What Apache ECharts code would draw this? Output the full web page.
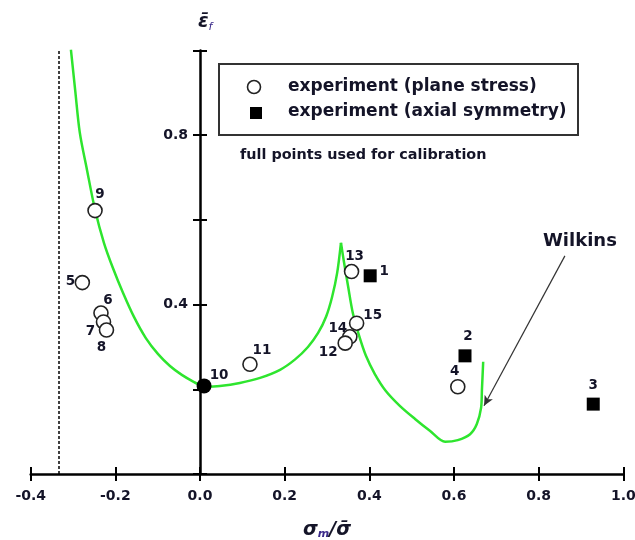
<!DOCTYPE html>
<html><head><meta charset="utf-8">
<script src="https://cdn.jsdelivr.net/npm/echarts@6/dist/echarts.min.js"></script>
<style>html,body{margin:0;padding:0;background:#fff}#c{width:635px;height:540px}</style>
</head><body><div id="c"></div>
<script>
// ---- data ----
// experiment (plane stress), open circles
const planeIds = ['9','5','6','7','8','11','13','15','14','12','4'];
const planeX = [-0.248,-0.278,-0.234,-0.228,-0.221,0.118,0.358,0.370,0.354,0.343,0.609];
const planeY = [0.622,0.452,0.380,0.359,0.340,0.259,0.478,0.356,0.324,0.309,0.206];
// plane stress point used for calibration (filled)
const calibIds = ['10'];
const calibX = [0.0095];
const calibY = [0.208];
// experiment (axial symmetry), filled squares
const axialIds = ['1','2','3'];
const axialX = [0.402,0.626,0.929];
const axialY = [0.468,0.279,0.165];
// Wilkins fracture locus: three smooth pieces (kink at point 10, cusp near 1/3)
const curveAX = [-0.305,-0.295,-0.284,-0.267,-0.248,-0.227,-0.206,-0.182,-0.156,-0.128,-0.099,-0.071,-0.043,-0.014,0.009];
const curveAY = [1.002,0.907,0.806,0.718,0.624,0.546,0.487,0.428,0.371,0.321,0.283,0.255,0.234,0.217,0.206];
const curveBX = [0.009,0.047,0.094,0.142,0.189,0.224,0.255,0.279,0.298,0.312,0.324,0.333];
const curveBY = [0.206,0.208,0.215,0.227,0.246,0.270,0.300,0.333,0.372,0.418,0.475,0.546];
const curveCX = [0.333,0.340,0.350,0.361,0.376,0.392,0.413,0.439,0.472,0.508,0.543,0.579,0.609,0.638,0.654,0.664,0.666,0.669];
const curveCY = [0.546,0.501,0.442,0.380,0.326,0.279,0.236,0.196,0.161,0.130,0.102,0.076,0.080,0.094,0.118,0.156,0.198,0.265];
const cutoffX = -1/3;
const yTickLabels = ['0.4','0.8'];
const arrowFrom = [0.862,0.515];
const arrowTo = [0.671,0.161];
const legendNames = ['experiment (plane stress)','experiment (axial symmetry)'];
const noteText = 'full points used for calibration';
const curveName = 'Wilkins';

// ---- styles ----
const labelOffset = {
  '9':[5,-16],'5':[-12,-1],'6':[7,-13],'7':[-13,10],'8':[-5,17],'11':[12,-14],
  '10':[15,-10],'13':[3,-15],'1':[14,-4],'15':[16,-8],'14':[-12,-8],'12':[-17,9],
  '4':[-3,-15],'2':[3,-19],'3':[0,-19]
};
const TXT = '#141428';
const FONT = '"DejaVu Sans", Verdana, sans-serif';
function pts(xs, ys, ids){
  return xs.map((x,i)=>({value:[x,ys[i]], label:{show:true, formatter:ids[i], position:'inside', offset:labelOffset[ids[i]]||[0,0]}}));
}
function pairs(xs, ys){ return xs.map((x,i)=>[x,ys[i]]); }
const lbl = {color:TXT, fontSize:13.5, fontWeight:'bold', fontFamily:FONT};
const GL = 30.7, GR = 11.7;
const zeroOffset = -(635 - GL - GR) * (0 - (-0.4)) / (1.0 - (-0.4));
const green = {color:'#2ee52e', width:2.5};
const curveSeries = (name, xs, ys) => ({type:'line', name, data:pairs(xs,ys), showSymbol:false, symbol:'none',
  smooth:0.3, lineStyle:green, z:2, silent:true});

const chart = echarts.init(document.getElementById('c'));
const axisCommon = {type:'value', splitLine:{show:false}};
const s1 = curveSeries(curveName, curveAX, curveAY);
s1.markLine = {silent:true, symbol:['none','none'], label:{show:false},
  lineStyle:{color:'#000', type:[3,2], width:1.5},
  data:[[{coord:[cutoffX,0]},{coord:[cutoffX,1.0]}]]};
chart.setOption({
  animation:false,
  backgroundColor:'#fff',
  grid:{left:GL, right:GR, top:50.5, bottom:66, outerBoundsMode:'none', containLabel:false},
  xAxis:[
    Object.assign({}, axisCommon, {min:-0.4, max:1.0, interval:0.2,
      axisLine:{onZero:false, lineStyle:{color:'#000', width:2.5}},
      axisTick:{inside:false, length:7, lineStyle:{color:'#000', width:2}},
      axisLabel:{margin:15, color:TXT, fontSize:14, fontWeight:'bold', fontFamily:FONT, formatter:v=>v.toFixed(1)},
      name:'{a|σ}{b|m}{c|/σ\u0304}', nameLocation:'middle', nameGap:47,
      nameTextStyle:{rich:{
        a:{fontSize:19, fontWeight:'bold', fontStyle:'italic', color:TXT, fontFamily:FONT},
        b:{fontSize:11, fontWeight:'bold', fontStyle:'italic', color:'#3b2a8a', fontFamily:FONT, padding:[8,0,0,0]},
        c:{fontSize:19, fontWeight:'bold', fontStyle:'italic', color:TXT, fontFamily:FONT}
      }}}),
    Object.assign({}, axisCommon, {min:-0.4, max:1.0, interval:0.2, position:'bottom',
      axisLine:{show:false, onZero:false}, axisLabel:{show:false},
      axisTick:{inside:true, length:7, lineStyle:{color:'#000', width:2}}})
  ],
  yAxis:[
    Object.assign({}, axisCommon, {min:0, max:1.0, interval:0.2, position:'left', offset:zeroOffset,
      axisLine:{onZero:false, lineStyle:{color:'#000', width:2.5}},
      axisTick:{inside:false, length:7, lineStyle:{color:'#000', width:2}},
      axisLabel:{margin:12, color:TXT, fontSize:14, fontWeight:'bold', fontFamily:FONT,
        formatter:v=>{const s=v.toFixed(1); return yTickLabels.indexOf(s)>=0?s:'';}},
      name:'{a|ε\u0304}{b|f}', nameLocation:'end', nameGap:18,
      nameTextStyle:{align:'left', padding:[0,0,0,-2], rich:{
        a:{fontSize:19, fontWeight:'bold', fontStyle:'italic', color:TXT, fontFamily:FONT},
        b:{fontSize:11, fontStyle:'italic', color:'#3b2a8a', fontFamily:FONT, padding:[10,0,0,0]}
      }}}),
    Object.assign({}, axisCommon, {min:0, max:1.0, interval:0.2, position:'left', offset:zeroOffset,
      axisLine:{show:false, onZero:false},
      axisLabel:{show:false},
      axisTick:{inside:true, length:7, lineStyle:{color:'#000', width:2}}})
  ],
  series:[
    s1,
    curveSeries(curveName+' (2)', curveBX, curveBY),
    curveSeries(curveName+' (3)', curveCX, curveCY),
    {type:'line', name:'arrow', data:[], markLine:{silent:true, symbol:['none','arrow'], symbolSize:[7,10],
       label:{show:false}, lineStyle:{color:'#333', type:'solid', width:1.2},
       data:[[{coord:arrowFrom},{coord:arrowTo}]]}},
    {type:'scatter', name:legendNames[0], data:pts(planeX,planeY,planeIds), symbol:'circle', symbolSize:14,
     itemStyle:{color:'#fff', borderColor:'#222', borderWidth:1.6, opacity:1}, label:lbl, z:4},
    {type:'scatter', name:'calibration (plane stress)', data:pts(calibX,calibY,calibIds), symbol:'circle', symbolSize:15,
     itemStyle:{color:'#000', opacity:1}, label:lbl, z:4},
    {type:'scatter', name:legendNames[1], data:pts(axialX,axialY,axialIds), symbol:'rect', symbolSize:13,
     itemStyle:{color:'#000', opacity:1}, label:lbl, z:4}
  ],
  graphic:[
    {type:'rect', shape:{x:219, y:64, width:359, height:71}, style:{fill:'#fff', stroke:'#333', lineWidth:2}, z:10},
    {type:'circle', shape:{cx:254, cy:87, r:6.5}, style:{fill:'#fff', stroke:'#222', lineWidth:1.6}, z:11},
    {type:'rect', shape:{x:250, y:107, width:12, height:12}, style:{fill:'#000'}, z:11},
    {type:'text', x:288, y:87, style:{text:legendNames[0], fill:TXT, font:'bold 17px '+FONT, textVerticalAlign:'middle'}, z:11},
    {type:'text', x:288, y:112, style:{text:legendNames[1], fill:TXT, font:'bold 17px '+FONT, textVerticalAlign:'middle'}, z:11},
    {type:'text', x:240, y:155, style:{text:noteText, fill:TXT, font:'bold 14.4px '+FONT, textVerticalAlign:'middle'}, z:11},
    {type:'text', x:543, y:241, style:{text:curveName, fill:TXT, font:'bold 18px '+FONT, textVerticalAlign:'middle'}, z:11}
  ]
});
</script></body></html>
